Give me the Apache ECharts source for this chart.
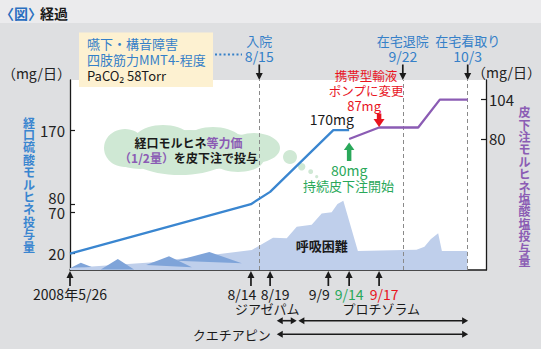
<!DOCTYPE html>
<html>
<head>
<meta charset="utf-8">
<script src="https://cdn.jsdelivr.net/npm/echarts@6/dist/echarts.min.js"></script>
<style>
  html, body { margin: 0; padding: 0; background: #dedfe1; }
  #c { width: 541px; height: 349px; }
</style>
</head>
<body>
<div id="c"></div>
<script>
// Timeline is schematic (not to scale): 0 = 2008/5/26, 100 = right edge of the plot
const eventDates  = ['2008年5/26', '8/14', '8/19', '9/9', '9/14', '9/17'];
const eventPos    = [0, 43.5, 48.1, 62.1, 67.1, 74.3];
const eventColors = ['#1a1a1a', '#1a1a1a', '#1a1a1a', '#1a1a1a', '#2aa85a', '#e8141e'];
const eventLabelShift = [0, -9, 5, -9, 0, 5];

const milestoneNames = [['入院', '8/15'], ['在宅退院', '9/22'], ['在宅看取り', '10/3']];
const milestonePos   = [45.5, 80.0, 95.6];

// oral morphine sulfate, mg/day
const oralPos  = [0, 43.5, 48.1, 63.3, 67.1];
const oralDose = [20, 80, 95, 170, 170];

// continuous subcutaneous morphine hydrochloride, mg/day
const scPos  = [67.1, 74.3, 83.7, 88.9, 95.6];
const scDose = [80, 87, 87, 104, 104];

const leftTicks  = [20, 70, 80, 170];
const rightTicks = [80, 104];

// dyspnea intensity (0-100)
const dyspneaPos   = [0, 19.2, 43.7, 48.8, 52.1, 54.5, 58.1, 60.5, 62.9, 64.3, 65.7, 69.2, 80.1, 83.3, 85.2, 86.7, 88.5, 89.4, 95.5, 95.5];
const dyspneaLevel = [1.1, 3.9, 10.5, 17.0, 16.7, 22.8, 23.8, 29.8, 30.4, 34.7, 36.5, 10.0, 10.5, 10.7, 12.3, 16.2, 19.3, 10.0, 10.0, 0];

// short dyspnea episodes: [start, level, peak, level, end, level]
const episodes = [
  [0.1, 1.1, 2.6, 3.8, 5.2, 1.6],
  [7.4, 0.3, 11.5, 5.8, 15.4, 0.3],
  [18.3, 2.6, 23.8, 7.2, 29.3, 1.4],
  [25.6, 4.9, 33.5, 9.5, 41.3, 3.5]
];

// hypnotics / antipsychotics, [start, end] on the timeline
const drugNames   = ['ジアゼパム', 'プロチゾラム', 'クエチアピン'];
const drugPeriods = [[49.7, 54.5], [54.9, 95.7], [49.7, 95.7]];

const blue = '#3a86d0', purple = '#8b5cb4', green = '#2aa85a', red = '#e8141e', labelBlue = '#3580c8', ink = '#1a1a1a';
const FAM = "'Noto Sans CJK JP', 'Noto Sans', 'DejaVu Sans', sans-serif";
const F = (size, bold) => (bold ? 'bold ' : '') + size + 'px ' + FAM;

const chart = echarts.init(document.getElementById('c'), null, { renderer: 'svg', width: 541, height: 349 });

// 80 sits just above 70 on the left axis, so its label is lifted a little (drawn below)
const leftLabelTicks = leftTicks.filter(v => v !== 80);

chart.setOption({
  animation: false,
  backgroundColor: '#dedfe1',
  textStyle: { fontFamily: FAM },
  grid: { left: 70, right: 55, top: 80, bottom: 79, show: true, backgroundColor: '#ffffff', borderWidth: 0 },
  xAxis: {
    type: 'value', min: 0, max: 100,
    axisLine: { show: true, lineStyle: { color: ink, width: 1.5 } },
    axisTick: { show: false }, axisLabel: { show: false }, splitLine: { show: false }
  },
  yAxis: [
    {
      type: 'value', min: 0, max: 231, position: 'left',
      axisLine: { show: true, lineStyle: { color: ink, width: 1.3 } },
      axisTick: { show: true, inside: true, length: 5, customValues: leftTicks, lineStyle: { color: ink, width: 1.2 } },
      axisLabel: { customValues: leftLabelTicks, fontSize: 15, color: '#222', margin: 5, fontFamily: FAM },
      splitLine: { show: false }
    },
    {
      type: 'value', min: 0, max: 116, position: 'right',
      axisLine: { show: true, lineStyle: { color: ink, width: 1.3 } },
      axisTick: { show: true, inside: true, length: 5, customValues: rightTicks, lineStyle: { color: ink, width: 1.2 } },
      axisLabel: { customValues: rightTicks, fontSize: 15, color: '#222', margin: 3, fontFamily: FAM },
      splitLine: { show: false }
    },
    { type: 'value', min: 0, max: 100, show: false }
  ],
  series: [
    {
      name: '呼吸困難', type: 'line', xAxisIndex: 0, yAxisIndex: 2, z: 1,
      data: dyspneaPos.map((x, i) => [x, dyspneaLevel[i]]),
      symbol: 'none', lineStyle: { width: 0 },
      areaStyle: { color: '#bfcfeb', opacity: 1 },
      markLine: {
        silent: true, symbol: ['none', 'none'], label: { show: false },
        lineStyle: { type: [4, 3], color: '#8a8a8a', width: 1 },
        data: milestonePos.map(p => ({ xAxis: p }))
      }
    },
    {
      name: 'episodes', type: 'custom', xAxisIndex: 0, yAxisIndex: 2, z: 2,
      data: episodes,
      encode: { x: [0, 2, 4], y: [1, 3, 5] },
      renderItem: (params, api) => {
        const pts = [0, 1, 2].map(i => api.coord([api.value(i * 2), api.value(i * 2 + 1)]));
        return { type: 'polygon', shape: { points: pts }, style: { fill: '#7fa4d9' } };
      }
    },
    {
      name: '経口硫酸モルヒネ', type: 'line', xAxisIndex: 0, yAxisIndex: 0, z: 5,
      data: oralPos.map((x, i) => [x, oralDose[i]]),
      symbol: 'none', lineStyle: { color: blue, width: 2.3 }
    },
    {
      name: '皮下注モルヒネ塩酸塩', type: 'line', xAxisIndex: 0, yAxisIndex: 1, z: 5,
      data: scPos.map((x, i) => [x, scDose[i]]),
      symbol: 'none', lineStyle: { color: purple, width: 2.3 }
    }
  ]
});

const px  = u => chart.convertToPixel({ xAxisIndex: 0 }, u);
const pyL = v => chart.convertToPixel({ yAxisIndex: 0 }, v);
const pyR = v => chart.convertToPixel({ yAxisIndex: 1 }, v);

function txt(text, x, y, color, font, align, z) {
  return {
    type: 'text', z: z || 50,
    style: { text, x, y, fill: color, font, textAlign: align || 'center', align: align || 'center', textVerticalAlign: 'middle', verticalAlign: 'middle' }
  };
}
function vtxt(text, x, yc, color) {
  const chars = Array.from(text);
  return {
    type: 'text', z: 50,
    style: { text: chars.join('\n'), x, y: yc, fill: color, font: F(12, true), lineHeight: 12.4,
      textAlign: 'center', align: 'center', textVerticalAlign: 'middle', verticalAlign: 'middle' }
  };
}
function arrowV(x, yFrom, yTip, color, w, headW, headL) {
  const d = yTip > yFrom ? 1 : -1;
  const yb = yTip - d * headL;
  return [
    { type: 'line', z: 50, shape: { x1: x, y1: yFrom, x2: x, y2: yb + d * 0.5 }, style: { stroke: color, lineWidth: w } },
    { type: 'polygon', z: 50, shape: { points: [[x - headW / 2, yb], [x + headW / 2, yb], [x, yTip]] }, style: { fill: color } }
  ];
}
function arrowH2(x1, x2, y) {
  const hl = 6, hw = 7;
  return [
    { type: 'line', z: 50, shape: { x1: x1 + hl - 0.5, y1: y, x2: x2 - hl + 0.5, y2: y }, style: { stroke: ink, lineWidth: 1.6 } },
    { type: 'polygon', z: 50, shape: { points: [[x1, y], [x1 + hl, y - hw / 2], [x1 + hl, y + hw / 2]] }, style: { fill: ink } },
    { type: 'polygon', z: 50, shape: { points: [[x2, y], [x2 - hl, y - hw / 2], [x2 - hl, y + hw / 2]] }, style: { fill: ink } }
  ];
}
function blob(cx, cy, rx, ry, fill) {
  return { type: 'circle', z: 1, x: cx, y: cy, scaleX: rx, scaleY: ry, shape: { cx: 0, cy: 0, r: 1 }, style: { fill } };
}

const g = [];

// header band and title
g.push({ type: 'rect', z: 0, shape: { x: 0, y: 0, width: 541, height: 23 }, style: { fill: '#ebebed' } });
g.push(txt('〈図〉', 0, 13, '#2a6fc0', F(14, true), 'left'));
g.push(txt('経過', 40, 13, ink, F(14, true), 'left'));

// clinical findings box
g.push({ type: 'rect', z: 50, shape: { x: 79, y: 32.5, width: 134, height: 54.5 }, style: { fill: '#fdf1d1' } });
g.push(txt('嚥下・構音障害', 87, 43.5, labelBlue, F(13), 'left'));
g.push(txt('四肢筋力MMT4-程度', 87, 59.5, labelBlue, F(13), 'left'));
g.push(txt('PaCO₂ 58Torr', 87, 75, ink, F(13), 'left'));
g.push({ type: 'line', z: 50, shape: { x1: 215, y1: 54.5, x2: 242, y2: 54.5 }, style: { stroke: labelBlue, lineWidth: 2, lineDash: [2, 2.3] } });

// milestones above the plot
milestoneNames.forEach((m, i) => {
  const x = px(milestonePos[i]);
  g.push(txt(m[0], x, 40.3, labelBlue, F(13)));
  g.push(txt(m[1], x, 56.3, labelBlue, F(14)));
  g.push(...arrowV(x, 64.5, 80, ink, 1.7, 7, 7));
});

// lifted label for the 80 tick on the left axis
g.push(txt('80', 65, pyL(80) - 7, '#222', F(15), 'right'));

// unit labels and axis titles
g.push(txt('（mg/日）', 71, 72.5, '#222', F(14), 'right'));
g.push(txt('（mg/日）', 472, 72, '#222', F(14), 'left'));
g.push(vtxt('経口硫酸モルヒネ投与量', 29, 184, blue));
g.push(vtxt('皮下注モルヒネ塩酸塩投与量', 524.5, 186, purple));

// speech cloud
const cloudFill = '#cfe8d4';
[
  [190, 150, 80, 20], [125, 148, 21, 19], [163, 142, 30, 17], [213, 143, 30, 16],
  [254, 148, 26, 15], [180, 160, 45, 15], [238, 159, 26, 13], [140, 158, 25, 11]
].forEach(e => g.push(blob(e[0], e[1], e[2], e[3], cloudFill)));
[[290, 157, 7], [301.7, 166.7, 3.7], [310.7, 171.7, 2.4], [316.7, 176.7, 1.6]]
  .forEach(b => g.push({ type: 'circle', z: 1, shape: { cx: b[0], cy: b[1], r: b[2] }, style: { fill: cloudFill } }));
g.push({
  type: 'text', z: 50,
  style: {
    text: '{k|経口モルヒネ}{p|等力価}\n{p|（1/2量）}{k|を皮下注で投与}',
    x: 188.5, y: 150, textAlign: 'center', align: 'center', textVerticalAlign: 'middle', verticalAlign: 'middle',
    rich: {
      k: { fill: ink, color: ink, font: F(12, true), fontSize: 12, fontWeight: 'bold', fontFamily: FAM, lineHeight: 15.5 },
      p: { fill: purple, color: purple, font: F(12, true), fontSize: 12, fontWeight: 'bold', fontFamily: FAM, lineHeight: 15.5 }
    }
  }
});

// dose annotations
const x170 = px(oralPos[3]), y170 = pyL(oralDose[3]);
g.push(txt('170mg', x170 - 1.5, y170 - 10.7, ink, F(14)));

const x87 = px(scPos[1]), y87 = pyR(scDose[1]);
g.push(txt('携帯型輸液', x87 - 13, 75.3, red, F(12.5)));
g.push(txt('ポンプに変更', x87 - 13, 90.5, red, F(12.5)));
g.push(txt('87mg', x87 - 15, 105.3, red, F(13)));
g.push(...arrowV(x87, 113.5, y87 - 0.5, red, 4.5, 11, 8));

const x80 = px(scPos[0]), y80 = pyR(scDose[0]);
g.push(...arrowV(x80, 161, y80 + 3.5, green, 4.5, 10.5, 7.5));
g.push(txt('80mg', x80, 169.5, green, F(14)));
g.push(txt('持続皮下注開始', x80 - 0.7, 185.8, green, F(13)));

g.push(txt('呼吸困難', 321.7, 245.7, ink, F(13, true)));

// dates below the plot
eventDates.forEach((d, i) => {
  const x = px(eventPos[i]);
  g.push(...arrowV(x, 286, 271, ink, 1.7, 7, 7));
  g.push(txt(d, x + eventLabelShift[i], 293.5, eventColors[i], F(14)));
});

// medication periods
const dp = drugPeriods.map(p => [px(p[0]), px(p[1])]);
g.push(txt(drugNames[0], dp[0][0] - 9.5, 308.5, ink, F(13)));
g.push(txt(drugNames[1], (dp[1][0] + dp[1][1]) / 2 - 2, 308.5, ink, F(13)));
g.push(txt(drugNames[2], dp[2][0] - 6, 334.5, ink, F(13), 'right'));
g.push(...arrowH2(dp[0][0], dp[0][1], 320.7));
g.push(...arrowH2(dp[1][0], dp[1][1], 320.7));
g.push(...arrowH2(dp[2][0], dp[2][1], 334.3));

chart.setOption({ graphic: { elements: g } });
</script>
</body>
</html>
